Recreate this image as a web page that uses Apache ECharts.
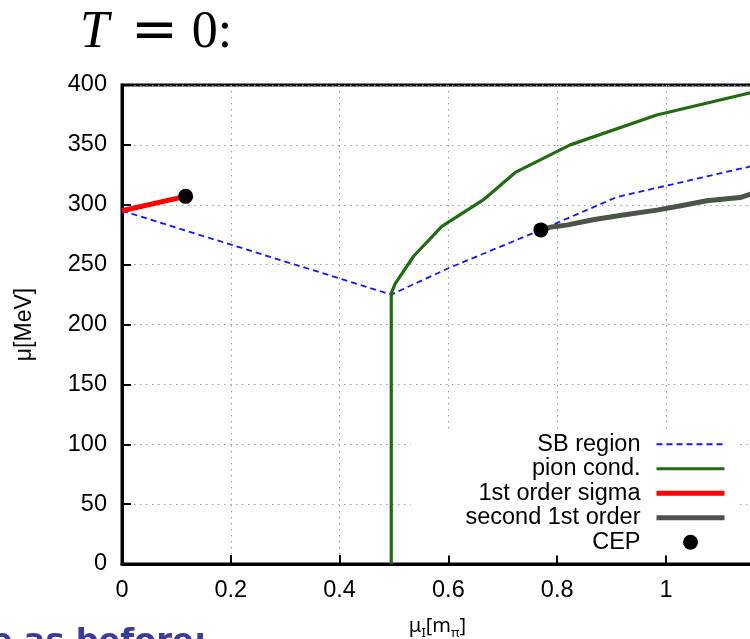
<!DOCTYPE html>
<html><head><meta charset="utf-8">
<script src="https://cdn.jsdelivr.net/npm/echarts@6/dist/echarts.min.js"></script>
<style>html,body{margin:0;padding:0;background:#fff;overflow:hidden}#c{width:750px;height:639px}</style>
</head><body><div id="c"></div>
<script>
// ---- data ----
const xTickLabels = ['0', '0.2', '0.4', '0.6', '0.8', '1'];
const yTickLabels = ['0', '50', '100', '150', '200', '250', '300', '350', '400'];
const legendNames = ['SB region', 'pion cond.', '1st order sigma', 'second 1st order', 'CEP'];

const sbX = [0, 0.495, 0.6, 0.77, 0.91, 1.16];
const sbY = [295, 225, 247, 279, 306.5, 332.5];

const pionX = [0.495, 0.495, 0.502, 0.536, 0.588, 0.664, 0.723, 0.824, 0.983, 1.16];
const pionY = [0, 226, 234, 257, 282, 304, 327, 350, 375, 394];

const sigmaX = [0, 0.117];
const sigmaY = [295, 307];

const secondX = [0.77, 0.79, 0.817, 0.866, 0.915, 0.983, 1.025, 1.075, 1.136, 1.16];
const secondY = [279, 281.5, 283, 287.5, 291, 295.5, 299, 303.3, 306, 309.5];

const cepX = [0.117, 0.77];
const cepY = [307, 279];

const zip = (xs, ys) => xs.map((x, i) => [x, ys[i]]);

const colors = {sb: '#1414ff', pion: '#236b12', sigma: '#ff0000', second: '#4a5449', cep: '#000'};

const chart = echarts.init(document.getElementById('c'), null, {renderer: 'canvas'});
const tickFont = {fontFamily: 'Liberation Sans', fontSize: 23.5, color: '#000'};
const gridLine = {show: true, lineStyle: {color: '#999', width: 1, type: [1.5, 4.5]}};
const hiddenSym = {color: 'rgba(0,0,0,0)', borderWidth: 0, opacity: 0};

chart.setOption({
  animation: false,
  backgroundColor: '#fff',
  grid: {left: 122, right: -3, top: 85, bottom: 75, outerBoundsMode: 'none', containLabel: false,
         show: true, borderColor: '#000', borderWidth: 3, backgroundColor: 'transparent'},
  xAxis: {
    type: 'value', min: 0, max: 1.16, interval: 0.2,
    axisLine: {show: true, onZero: false, lineStyle: {color: '#000', width: 3}},
    axisTick: {show: true, inside: true, length: 9, lineStyle: {color: '#000', width: 2}},
    axisLabel: Object.assign({margin: 15, showMaxLabel: false,
      formatter: (v) => { const i = Math.round(v / 0.2); return Math.abs(v - i * 0.2) < 1e-6 && i < xTickLabels.length ? xTickLabels[i] : ''; }}, tickFont),
    splitLine: gridLine,
    name: '{a|μ}{s|I}{a|[m}{s|π}{a|]}',
    nameLocation: 'middle', nameGap: 48,
    nameTextStyle: {rich: {
      a: {fontFamily: 'Noto Sans', fontSize: 20, color: '#000', lineHeight: 28, verticalAlign: 'middle'},
      s: {fontFamily: 'Noto Sans', fontSize: 13, color: '#000', lineHeight: 28, verticalAlign: 'bottom'}
    }}
  },
  yAxis: {
    type: 'value', min: 0, max: 400, interval: 50,
    axisLine: {show: true, onZero: false, lineStyle: {color: '#000', width: 3}},
    axisTick: {show: true, inside: true, length: 9, lineStyle: {color: '#000', width: 2}},
    axisLabel: Object.assign({margin: 15,
      formatter: (v) => { const i = Math.round(v / 50); return yTickLabels[i] !== undefined ? yTickLabels[i] : ''; }}, tickFont),
    splitLine: gridLine,
    name: 'μ[MeV]', nameLocation: 'middle', nameGap: 86,
    nameTextStyle: {fontFamily: 'Liberation Sans', fontSize: 23, color: '#000'}
  },
  legend: {
    orient: 'vertical', align: 'right', right: 12, top: 432,
    padding: [0, 11, 1, 55], backgroundColor: '#fff',
    itemWidth: 68, itemHeight: 15, itemGap: 0,
    textStyle: {fontFamily: 'Liberation Sans', fontSize: 23.5, color: '#000', lineHeight: 24.5, padding: [0, 11, 0, 0]},
    data: [
      {name: legendNames[0], itemStyle: hiddenSym, lineStyle: {color: colors.sb, width: 1.8, type: [6, 4]}},
      {name: legendNames[1], itemStyle: hiddenSym, lineStyle: {color: colors.pion, width: 3}},
      {name: legendNames[2], itemStyle: hiddenSym, lineStyle: {color: colors.sigma, width: 5}},
      {name: legendNames[3], itemStyle: hiddenSym, lineStyle: {color: colors.second, width: 5}},
      {name: legendNames[4]}
    ]
  },
  series: [
    {name: legendNames[0], type: 'line', data: zip(sbX, sbY), symbol: 'none', showSymbol: false,
     lineStyle: {color: colors.sb, width: 1.8, type: [6, 4]}, itemStyle: {color: colors.sb}, z: 2},
    {name: legendNames[1], type: 'line', data: zip(pionX, pionY), symbol: 'none', showSymbol: false,
     lineStyle: {color: colors.pion, width: 3.2}, itemStyle: {color: colors.pion}, z: 3},
    {name: legendNames[2], type: 'line', data: zip(sigmaX, sigmaY), symbol: 'none', showSymbol: false,
     lineStyle: {color: colors.sigma, width: 5}, itemStyle: {color: colors.sigma}, z: 4},
    {name: legendNames[3], type: 'line', data: zip(secondX, secondY), symbol: 'none', showSymbol: false,
     lineStyle: {color: colors.second, width: 5}, itemStyle: {color: colors.second}, z: 4},
    {name: legendNames[4], type: 'scatter', data: zip(cepX, cepY), symbol: 'circle', symbolSize: 15,
     itemStyle: {color: colors.cep, opacity: 1}, z: 6}
  ],
  graphic: [
    {type: 'text', left: 80, top: 5, silent: true, style: {
      text: '{t|T}{e|=}{z|0:}',
      rich: {
        t: {fontFamily: 'Liberation Serif', fontStyle: 'italic', fontSize: 52, fill: '#000'},
        e: {fontFamily: 'DejaVu Serif', fontSize: 56, fill: '#000', padding: [0, 14, 0, 22]},
        z: {fontFamily: 'Liberation Serif', fontSize: 52, fill: '#000'}
      }
    }},
    {type: 'text', x: -9, y: 643, silent: true, style: {
      text: 'e as before:', fontFamily: 'DejaVu Sans', fontWeight: 'bold', fontSize: 32,
      fill: '#3b3b99', verticalAlign: 'middle', align: 'left'
    }}
  ]
});
</script></body></html>
